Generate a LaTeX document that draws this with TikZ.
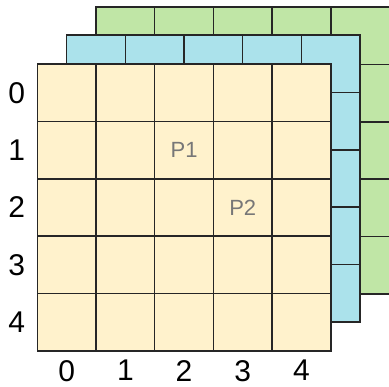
\documentclass[tikz,border=0pt]{standalone}
\usepackage{fontspec}
\setmainfont{Liberation Sans}
\usetikzlibrary{positioning}
\definecolor{GridYellow}{HTML}{FFF2CC}
\definecolor{GridBlue}{HTML}{ABE2EB}
\definecolor{GridGreen}{HTML}{C0E6A6}
\definecolor{GridLine}{HTML}{262626}
\definecolor{PatchGray}{HTML}{777777}

\begin{document}
\begin{tikzpicture}[x=1pt, y=-1pt,
    cell/.style={draw=GridLine, line width=1.5pt, inner sep=0pt, outer sep=0pt,
                 anchor=north west, minimum width=58.7pt, minimum height=57.4pt},
    idx/.style={font=\fontsize{30}{34}\selectfont, inner sep=0pt, text=black},
    patch/.style={font=\fontsize{22}{26}\selectfont, text=PatchGray}]
  \useasboundingbox (0,0) rectangle (389,387);
  % back layers first, front layer last
  \foreach \lay/\col/\dx/\dy in {g/GridGreen/58.7/-57, b/GridBlue/29.3/-29, f/GridYellow/0/0} {
    \foreach \r in {0,...,4} {
      \foreach \c in {0,...,4} {
        \node[cell, fill=\col] (\lay-\r-\c) at ({37.3+\dx+58.7*\c}, {64+\dy+57.4*\r}) {};
      }
    }
  }
  % row and column indices
  \foreach \i in {0,...,4} {
    \node[idx, left=12pt of f-\i-0] (row-\i) {\i};
    \node[idx, below=9pt of f-4-\i] (col-\i) {\i};
  }
  \node[patch] (p1) at (f-1-2) {P1};
  \node[patch] (p2) at (f-2-3) {P2};
\end{tikzpicture}
\end{document}
